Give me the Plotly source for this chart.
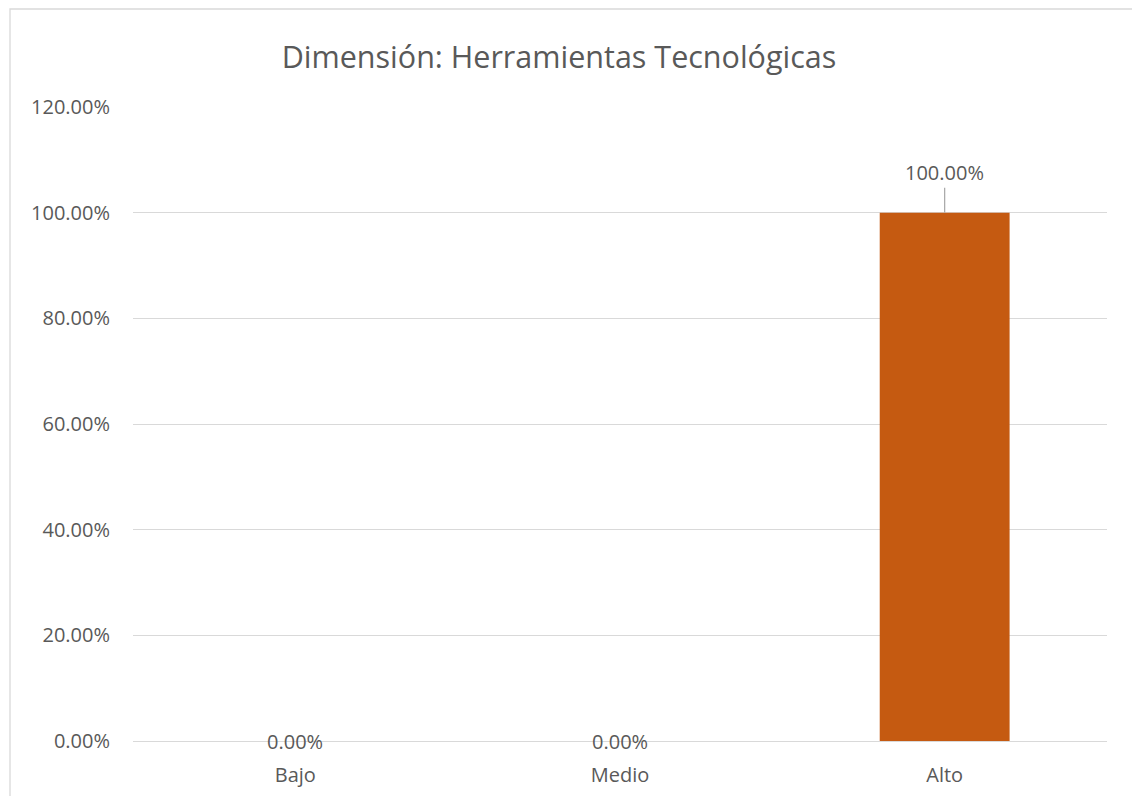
import plotly.graph_objects as go

# Data
categories = ["Bajo", "Medio", "Alto"]
values = [0.0, 0.0, 1.0]
y_ticks = [0, 0.2, 0.4, 0.6, 0.8, 1.0, 1.2]
title_text = "Dimensión: Herramientas Tecnológicas"

W, H = 1132, 796
L, R, T, B = 133, 25, 107, 55
plot_w = W - L - R
plot_h = H - T - B

FONT = "Open Sans"
TXT = "#595959"
LABEL_SIZE = 20

fig = go.Figure(
    go.Bar(
        x=categories,
        y=values,
        marker=dict(color="#C55A11", line=dict(width=0)),
        width=0.4,
        hoverinfo="skip",
    )
)

# Value labels; non-zero bars get a leader line up to the label
for cat, v in zip(categories, values):
    label = f"{v * 100:.2f}%"
    if v > 0:
        fig.add_annotation(
            x=cat, y=v, text=label, showarrow=True,
            arrowhead=0, arrowwidth=1.2, arrowcolor="#A6A6A6",
            ax=0, ay=-40, standoff=0,
            font=dict(family=FONT, size=LABEL_SIZE, color=TXT),
        )
    else:
        fig.add_annotation(
            x=cat, y=v, text=label, showarrow=False,
            yanchor="middle",
            font=dict(family=FONT, size=LABEL_SIZE, color=TXT),
        )

# Chart frame
def px_to_paper_x(px):
    return (px - L) / plot_w

def px_to_paper_y(py):
    return (H - B - py) / plot_h

fig.add_shape(
    type="rect", xref="paper", yref="paper",
    x0=px_to_paper_x(10), x1=px_to_paper_x(1145),
    y0=px_to_paper_y(810), y1=px_to_paper_y(9),
    line=dict(color="#D9D9D9", width=1.3), fillcolor="rgba(0,0,0,0)",
    layer="below",
)

fig.update_layout(
    width=W, height=H,
    margin=dict(l=L, r=R, t=T, b=B, autoexpand=False),
    paper_bgcolor="white", plot_bgcolor="white",
    showlegend=False,
    title=dict(
        text=title_text, x=559 / W,
        xanchor="center", y=1 - 57 / H, yanchor="middle",
        font=dict(family=FONT, size=30.5, color=TXT),
    ),
    xaxis=dict(
        showgrid=False, showline=False, zeroline=False, ticks="",
        ticklabelstandoff=20,
        tickfont=dict(family=FONT, size=LABEL_SIZE, color=TXT),
    ),
    yaxis=dict(
        range=[0, 1.2], tickvals=y_ticks, tickformat=".2%",
        showgrid=True, gridcolor="#D9D9D9", gridwidth=1.3,
        zeroline=True, zerolinecolor="#D9D9D9", zerolinewidth=1.3,
        showline=False, ticks="", ticklabelstandoff=22,
        tickfont=dict(family=FONT, size=LABEL_SIZE, color=TXT),
    ),
)

fig.write_html("out.html")
